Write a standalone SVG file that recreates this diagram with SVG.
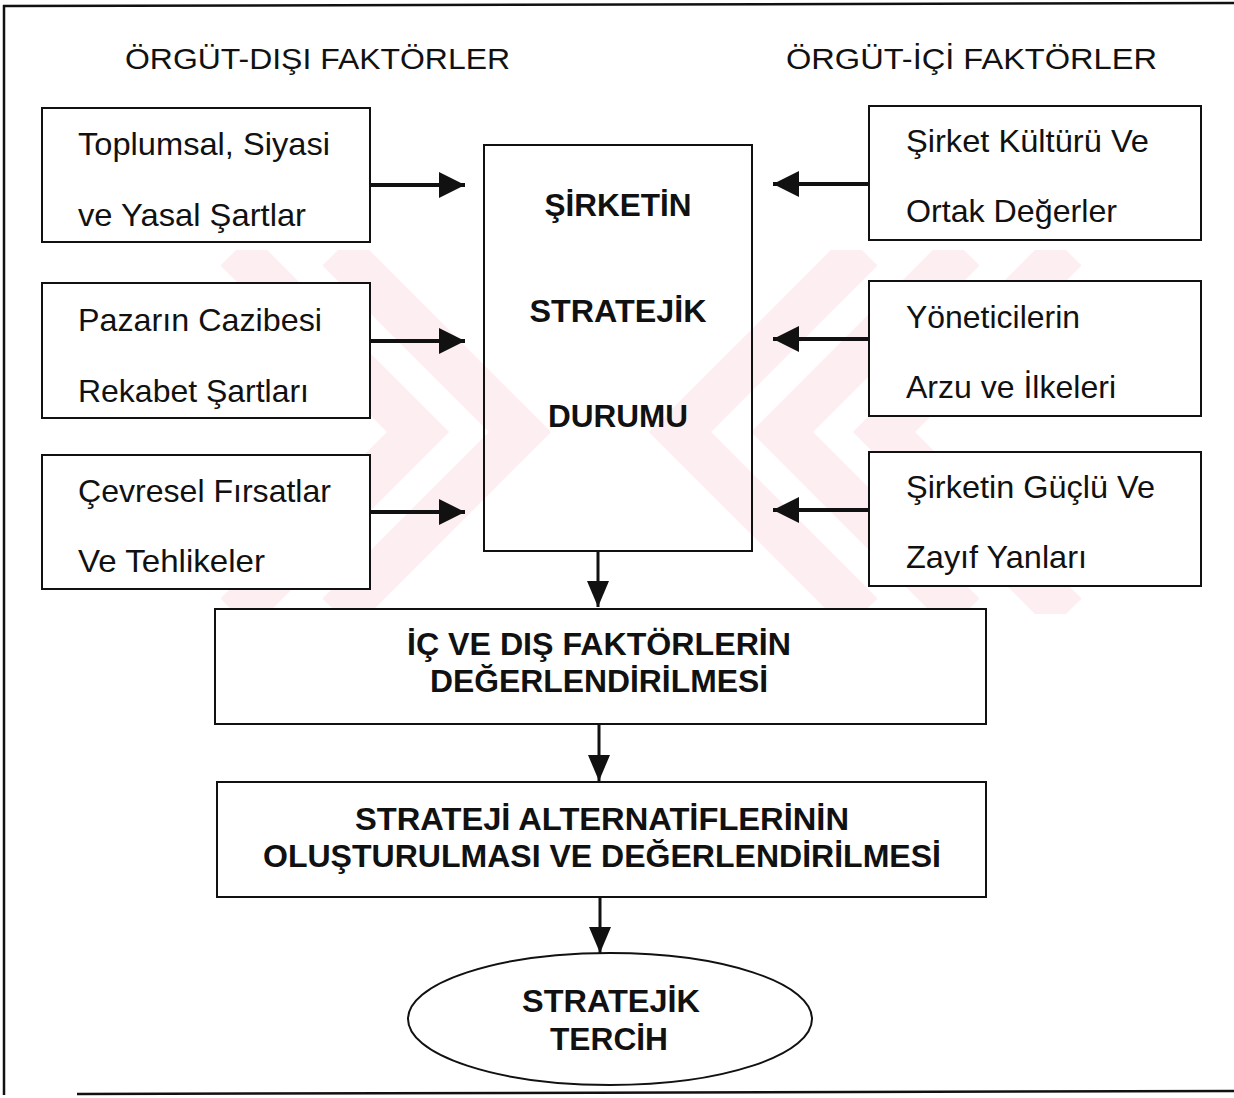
<svg xmlns="http://www.w3.org/2000/svg" width="1234" height="1098" viewBox="0 0 1234 1098">
<style>
.frame{fill:none;stroke:#111;stroke-width:2.5}
.box{fill:#fff;stroke:#111;stroke-width:2}
.cbox{fill:none;stroke:#111;stroke-width:2}
.t{font-family:"Liberation Sans",Arial,sans-serif;font-size:32px;fill:#111}
.h{font-family:"Liberation Sans",Arial,sans-serif;font-size:30px;fill:#111}
.b{font-family:"Liberation Sans",Arial,sans-serif;font-size:31px;font-weight:bold;fill:#111;text-anchor:middle}
.thick{stroke:#111;stroke-width:4;fill:none}
.thin{stroke:#111;stroke-width:3;fill:none}
.wm{fill:none;stroke:#fdeef1;stroke-width:44;stroke-linejoin:miter}
</style>
<defs>
<clipPath id="wmclip"><rect x="200" y="250" width="1034" height="364"/></clipPath>
<marker id="ah" markerUnits="userSpaceOnUse" markerWidth="28" markerHeight="28" refX="26" refY="13" orient="auto">
<path d="M0,0 L26,13 L0,26 Z" fill="#111"/>
</marker>
<marker id="ahd" markerUnits="userSpaceOnUse" markerWidth="28" markerHeight="24" refX="26" refY="11" orient="auto">
<path d="M0,0 L26,11 L0,22 Z" fill="#111"/>
</marker>
</defs>

<g id="watermark" clip-path="url(#wmclip)">
<polyline class="wm" points="236,250 418,432 236,614"/>
<polyline class="wm" points="338,250 520,432 338,614"/>
<polyline class="wm" points="862,250 680,432 862,614"/>
<polyline class="wm" points="964,250 782,432 964,614"/>
<polyline class="wm" points="1066,250 884,432 1066,614"/>
</g>

<g id="frame">
<line class="frame" x1="3" y1="6" x2="1234" y2="3"/>
<line class="frame" x1="4" y1="5" x2="4" y2="1095"/>
<line class="frame" x1="77" y1="1094" x2="1234" y2="1091"/>
</g>

<g id="headers">
<text class="h" x="125" y="69" textLength="385" lengthAdjust="spacingAndGlyphs">ÖRGÜT-DIŞI FAKTÖRLER</text>
<text class="h" x="786" y="69" textLength="371" lengthAdjust="spacingAndGlyphs">ÖRGÜT-İÇİ FAKTÖRLER</text>
</g>

<g id="node-toplumsal">
<rect class="box" x="42" y="108" width="328" height="134"/>
<text class="t" x="78" y="155" textLength="252" lengthAdjust="spacingAndGlyphs">Toplumsal, Siyasi</text>
<text class="t" x="78" y="226" textLength="228" lengthAdjust="spacingAndGlyphs">ve Yasal Şartlar</text>
</g>
<g id="node-pazar">
<rect class="box" x="42" y="283" width="328" height="135"/>
<text class="t" x="78" y="331" textLength="244" lengthAdjust="spacingAndGlyphs">Pazarın Cazibesi</text>
<text class="t" x="78" y="402" textLength="231" lengthAdjust="spacingAndGlyphs">Rekabet Şartları</text>
</g>
<g id="node-cevresel">
<rect class="box" x="42" y="455" width="328" height="134"/>
<text class="t" x="78" y="502" textLength="253" lengthAdjust="spacingAndGlyphs">Çevresel Fırsatlar</text>
<text class="t" x="78" y="572" textLength="187" lengthAdjust="spacingAndGlyphs">Ve Tehlikeler</text>
</g>

<g id="node-kultur">
<rect class="box" x="869" y="106" width="332" height="134"/>
<text class="t" x="906" y="152" textLength="243" lengthAdjust="spacingAndGlyphs">Şirket Kültürü Ve</text>
<text class="t" x="906" y="222" textLength="211" lengthAdjust="spacingAndGlyphs">Ortak Değerler</text>
</g>
<g id="node-yonetici">
<rect class="box" x="869" y="281" width="332" height="135"/>
<text class="t" x="906" y="328" textLength="174" lengthAdjust="spacingAndGlyphs">Yöneticilerin</text>
<text class="t" x="906" y="398" textLength="210" lengthAdjust="spacingAndGlyphs">Arzu ve İlkeleri</text>
</g>
<g id="node-guclu">
<rect class="box" x="869" y="452" width="332" height="134"/>
<text class="t" x="906" y="498" textLength="249" lengthAdjust="spacingAndGlyphs">Şirketin Güçlü Ve</text>
<text class="t" x="906" y="568" textLength="181" lengthAdjust="spacingAndGlyphs">Zayıf Yanları</text>
</g>

<g id="node-durum">
<rect class="cbox" x="484" y="145" width="268" height="406"/>
<text class="b" x="618" y="216" textLength="147" lengthAdjust="spacingAndGlyphs">ŞİRKETİN</text>
<text class="b" x="618" y="322" textLength="177" lengthAdjust="spacingAndGlyphs">STRATEJİK</text>
<text class="b" x="618" y="427" textLength="140" lengthAdjust="spacingAndGlyphs">DURUMU</text>
</g>

<g id="node-degerlendirme">
<rect class="box" x="215" y="609" width="771" height="115"/>
<text class="b" x="599" y="655" textLength="384" lengthAdjust="spacingAndGlyphs">İÇ VE DIŞ FAKTÖRLERİN</text>
<text class="b" x="599" y="692" textLength="338" lengthAdjust="spacingAndGlyphs">DEĞERLENDİRİLMESİ</text>
</g>

<g id="node-alternatif">
<rect class="box" x="217" y="782" width="769" height="115"/>
<text class="b" x="602" y="830" textLength="494" lengthAdjust="spacingAndGlyphs">STRATEJİ ALTERNATİFLERİNİN</text>
<text class="b" x="602" y="867" textLength="678" lengthAdjust="spacingAndGlyphs">OLUŞTURULMASI VE DEĞERLENDİRİLMESİ</text>
</g>

<g id="node-tercih">
<ellipse cx="610" cy="1019" rx="202" ry="66" fill="#fff" stroke="#111" stroke-width="2"/>
<text class="b" x="611" y="1012" textLength="178" lengthAdjust="spacingAndGlyphs">STRATEJİK</text>
<text class="b" x="609" y="1050" textLength="118" lengthAdjust="spacingAndGlyphs">TERCİH</text>
</g>

<g id="connectors">
<line class="thick" x1="371" y1="185" x2="465" y2="185" marker-end="url(#ah)"/>
<line class="thick" x1="371" y1="341" x2="465" y2="341" marker-end="url(#ah)"/>
<line class="thick" x1="371" y1="512" x2="465" y2="512" marker-end="url(#ah)"/>
<line class="thick" x1="868" y1="184" x2="773" y2="184" marker-end="url(#ah)"/>
<line class="thick" x1="868" y1="339" x2="773" y2="339" marker-end="url(#ah)"/>
<line class="thick" x1="868" y1="510" x2="773" y2="510" marker-end="url(#ah)"/>
<line class="thin" x1="598" y1="551" x2="598" y2="607" marker-end="url(#ahd)"/>
<line class="thin" x1="599" y1="724" x2="599" y2="781" marker-end="url(#ahd)"/>
<line class="thin" x1="600" y1="897" x2="600" y2="953" marker-end="url(#ahd)"/>
</g>
</svg>
